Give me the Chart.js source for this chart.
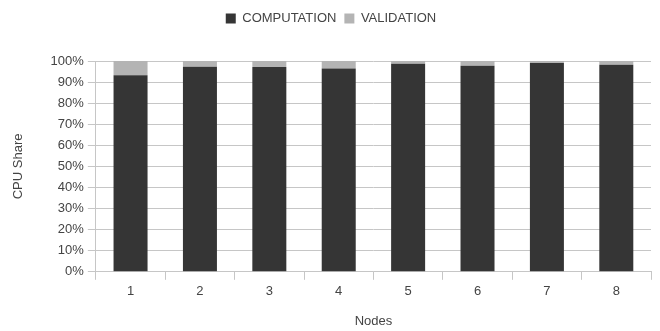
<!DOCTYPE html>
<html>
<head>
<meta charset="utf-8">
<script src="https://cdn.jsdelivr.net/npm/chart.js@4/dist/chart.umd.min.js"></script>
<style>
  html, body { margin: 0; padding: 0; background: #fff; }
  #wrap { width: 660px; height: 331px; }
</style>
</head>
<body>
<div id="wrap"><canvas id="cpuChart"></canvas></div>
<script>
// values (percent of CPU time)
const nodes = ['1', '2', '3', '4', '5', '6', '7', '8'];
const computation = [93.2, 97.3, 97.2, 96.4, 98.7, 97.8, 99.0, 98.2];
const validation = [6.8, 2.7, 2.8, 3.6, 1.3, 2.2, 1.0, 1.8];

const textColor = '#444';
const gridColor = '#c6c6c6';
const font = { family: '"Liberation Sans", Arial, sans-serif', size: 13 };

// extra room under the legend
const legendGap = {
  id: 'legendGap',
  beforeInit(chart) {
    const fit = chart.legend.fit;
    chart.legend.fit = function () {
      fit.bind(chart.legend)();
      this.height += 26;
    };
  }
};

const ctx = document.getElementById('cpuChart').getContext('2d');

new Chart(ctx, {
  type: 'bar',
  data: {
    labels: nodes,
    datasets: [
      {
        label: 'COMPUTATION',
        data: computation,
        backgroundColor: '#353535',
        borderWidth: 0
      },
      {
        label: 'VALIDATION',
        data: validation,
        backgroundColor: '#b4b4b4',
        borderWidth: 0
      }
    ]
  },
  plugins: [legendGap],
  options: {
    responsive: true,
    maintainAspectRatio: false,
    animation: false,
    layout: {
      padding: { left: 11, right: 9, top: 4, bottom: 2 }
    },
    datasets: {
      bar: {
        barPercentage: 1,
        categoryPercentage: 0.49
      }
    },
    plugins: {
      legend: {
        position: 'top',
        labels: {
          color: textColor,
          font: font,
          boxWidth: 10,
          boxHeight: 10,
          padding: 8
        }
      },
      tooltip: { enabled: false }
    },
    scales: {
      x: {
        stacked: true,
        grid: {
          offset: true,
          color: c => (c.index === nodes.length ? gridColor : 'transparent'),
          tickColor: gridColor,
          tickLength: 8
        },
        border: { color: gridColor },
        ticks: { color: textColor, font: font, padding: 4 },
        title: {
          display: true,
          text: 'Nodes',
          color: textColor,
          font: font,
          padding: { top: 10, bottom: 0 }
        }
      },
      y: {
        stacked: true,
        min: 0,
        max: 100,
        grid: {
          color: gridColor,
          tickColor: gridColor,
          tickLength: 8
        },
        border: { color: gridColor },
        ticks: {
          stepSize: 10,
          color: textColor,
          font: font,
          padding: 4,
          callback: v => v + '%'
        },
        title: {
          display: true,
          text: 'CPU Share',
          color: textColor,
          font: font,
          padding: { top: 0, bottom: 20 }
        }
      }
    }
  }
});
</script>
</body>
</html>
